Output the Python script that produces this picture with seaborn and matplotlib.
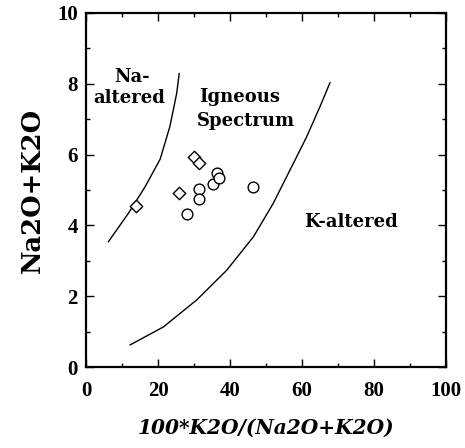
import matplotlib
matplotlib.use("Agg")
import matplotlib.pyplot as plt
import seaborn as sns
import pandas as pd
from matplotlib.ticker import MultipleLocator

# Data
diamond_x = [13.9, 25.9, 30.0, 31.3]
diamond_y = [4.55, 4.91, 5.92, 5.77]
circle_x = [28.0, 31.5, 31.5, 35.4, 36.3, 37.0, 46.5]
circle_y = [4.32, 5.02, 4.74, 5.17, 5.49, 5.35, 5.08]

na_line_x = [6.2, 11.75, 16.4, 20.6, 23.3, 25.2, 25.9]
na_line_y = [3.54, 4.34, 5.09, 5.87, 6.79, 7.73, 8.29]
k_line_x = [12.2, 21.5, 30.75, 39.1, 46.5, 52.0, 57.6, 61.3, 65.0, 67.8]
k_line_y = [0.63, 1.14, 1.90, 2.74, 3.68, 4.62, 5.75, 6.50, 7.35, 8.03]

xticks = [0, 20, 40, 60, 80, 100]
yticks = [0, 2, 4, 6, 8, 10]

sns.set_theme(style="ticks")
plt.rcParams['font.family'] = ['DejaVu Serif']
for key in ["text.color", "axes.labelcolor", "xtick.color", "ytick.color"]:
    plt.rcParams[key] = "black"

fig = plt.figure(figsize=(4.65, 4.48), dpi=100)
ax = fig.add_axes([0.185, 0.180, 0.774, 0.7917])

pts = pd.DataFrame({
    "x": diamond_x + circle_x,
    "y": diamond_y + circle_y,
    "kind": ["d"] * len(diamond_x) + ["o"] * len(circle_x),
})
lines = pd.DataFrame({
    "x": na_line_x + k_line_x,
    "y": na_line_y + k_line_y,
    "line": ["na"] * len(na_line_x) + ["k"] * len(k_line_x),
})

sns.lineplot(data=lines, x="x", y="y", units="line", estimator=None, sort=False,
             color="black", linewidth=1.0, ax=ax, legend=False)
for kind, m, s in [("d", "D", 40), ("o", "o", 60)]:
    sub = pts[pts["kind"] == kind]
    sns.scatterplot(data=sub, x="x", y="y", marker=m, s=s, facecolor="white",
                    edgecolor="black", linewidth=1.0, ax=ax, legend=False, zorder=3)

ax.set_xlim(0, 100)
ax.set_ylim(0, 10)
ax.set_xticks(xticks)
ax.set_yticks(yticks)
ax.xaxis.set_minor_locator(MultipleLocator(10))
ax.yaxis.set_minor_locator(MultipleLocator(1))
ax.tick_params(which="both", direction="in", top=True, right=True, width=1.0,
               colors="black")
ax.tick_params(axis="x", pad=10)
ax.tick_params(axis="y", pad=6)
ax.tick_params(which="major", length=6)
ax.tick_params(which="minor", length=3)
for lab in ax.get_xticklabels() + ax.get_yticklabels():
    lab.set_fontweight("bold")
    lab.set_fontfamily(["Liberation Serif"])
    lab.set_fontsize(15)
for sp in ax.spines.values():
    sp.set_linewidth(1.6)
    sp.set_color("black")

ax.set_xlabel("100*K2O/(Na2O+K2O)", fontsize=14.5, fontweight="bold",
              fontstyle="italic", labelpad=12, color="black")
ax.set_ylabel("Na2O+K2O", fontsize=18.5, fontweight="bold", labelpad=9,
              color="black")

tk = dict(fontsize=13, fontweight="bold", ha="center", va="center", color="black")
ax.text(12.8, 8.2, "Na-", **tk)
ax.text(12.0, 7.6, "altered", **tk)
ax.text(42.6, 7.63, "Igneous", **tk)
ax.text(44.4, 6.95, "Spectrum", **tk)
ax.text(73.6, 4.09, "K-altered", **tk)

fig.savefig("out.png", dpi=100)
